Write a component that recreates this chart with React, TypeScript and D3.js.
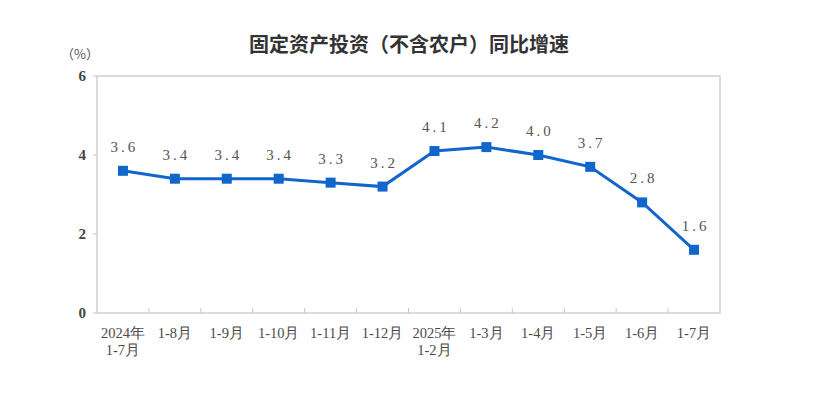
import React from "react";
import * as d3 from "d3";

const categories = [
  "2024年\n1-7月", "1-8月", "1-9月", "1-10月", "1-11月", "1-12月",
  "2025年\n1-2月", "1-3月", "1-4月", "1-5月", "1-6月", "1-7月",
];
const growth = [3.6, 3.4, 3.4, 3.4, 3.3, 3.2, 4.1, 4.2, 4.0, 3.7, 2.8, 1.6];
const yTicks = [0, 2, 4, 6];

const width = 831;
const height = 394;
const margin = { top: 76, right: 111, bottom: 81, left: 97 };

export default function App() {
  const innerW = width - margin.left - margin.right;
  const innerH = height - margin.top - margin.bottom;

  const x = d3.scaleBand().domain(categories).range([0, innerW]);
  const y = d3.scaleLinear().domain([0, 6]).range([innerH, 0]);

  const line = d3
    .line<number>()
    .x((_, i) => (x(categories[i]) as number) + x.bandwidth() / 2)
    .y((d) => y(d));

  const serif = "'Liberation Serif', 'DejaVu Serif', serif";
  const blue = "#1166cc";

  return (
    <svg
      width={width}
      height={height}
      style={{ position: "absolute", left: 0, top: 0, background: "#fff" }}
    >
      <text
        x={409}
        y={52}
        textAnchor="middle"
        fontSize={20}
        fontWeight="bold"
        fill="#333"
        fontFamily="'Noto Sans CJK SC', sans-serif"
      >
        固定资产投资（不含农户）同比增速
      </text>
      <text
        x={80}
        y={59}
        textAnchor="middle"
        fontSize={13}
        fill="#555"
        fontFamily="'Noto Sans CJK SC', sans-serif"
      >
        （%）
      </text>
      <g transform={`translate(${margin.left},${margin.top})`}>
        <rect
          x={0}
          y={0}
          width={innerW}
          height={innerH}
          fill="none"
          stroke="#d0d0d0"
          strokeWidth={1.5}
        />
        {yTicks.map((t) => (
          <g key={t}>
            <line x1={-4} x2={0} y1={y(t)} y2={y(t)} stroke="#c8c8c8" />
            <text
              x={-11}
              y={y(t)}
              dy="0.35em"
              textAnchor="end"
              fontSize={15}
              fontWeight="bold"
              fill="#444"
              fontFamily={serif}
            >
              {t}
            </text>
          </g>
        ))}
        {categories.slice(1).map((c) => (
          <line
            key={c}
            x1={x(c) as number}
            x2={x(c) as number}
            y1={innerH}
            y2={innerH - 5}
            stroke="#c8c8c8"
            strokeWidth={1}
          />
        ))}
        {categories.map((c) => {
          const parts = c.split("\n");
          const cx = (x(c) as number) + x.bandwidth() / 2;
          return (
            <text
              key={c}
              x={cx}
              y={innerH + 25}
              textAnchor="middle"
              fontSize={14.5}
              fill="#4a4a4a"
              fontFamily={serif}
            >
              {parts.map((p, i) => (
                <tspan key={i} x={cx} dy={i === 0 ? 0 : 16.5}>
                  {p}
                </tspan>
              ))}
            </text>
          );
        })}
        <path
          d={line(growth) as string}
          fill="none"
          stroke={blue}
          strokeWidth={3}
        />
        {growth.map((v, i) => {
          const cx = (x(categories[i]) as number) + x.bandwidth() / 2;
          return (
            <g key={i}>
              <rect
                x={cx - 5}
                y={y(v) - 5}
                width={10}
                height={10}
                fill={blue}
              />
              <text
                x={cx + 1.5}
                y={y(v) - 19}
                textAnchor="middle"
                fontSize={15}
                letterSpacing={3}
                fill="#555"
                fontFamily={serif}
              >
                {v.toFixed(1)}
              </text>
            </g>
          );
        })}
      </g>
    </svg>
  );
}
